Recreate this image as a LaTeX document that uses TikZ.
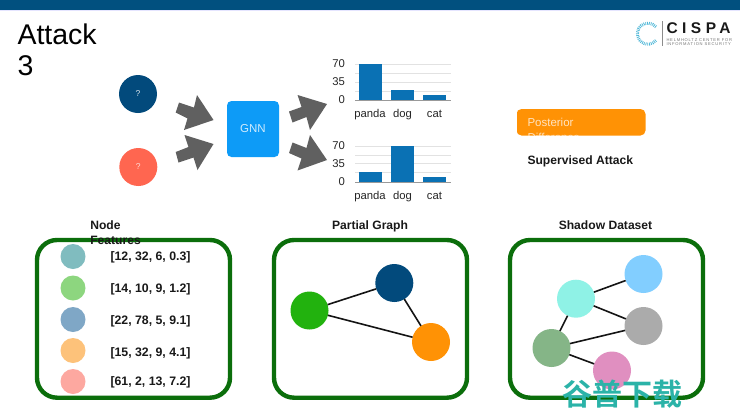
\documentclass[tikz,border=0pt]{standalone}
\usepackage{fontspec}
\setmainfont{Liberation Sans}
\newfontfamily\cjkfont{Noto Sans CJK SC}[BoldFont={* Bold}]
\definecolor{barblue}{HTML}{0A71B4}
\definecolor{navy}{HTML}{024A7C}
\definecolor{topbar}{HTML}{01507F}
\definecolor{frame}{HTML}{0B6E0B}
\definecolor{arrowgray}{HTML}{606060}
\definecolor{gridgray}{HTML}{E2E2E2}
\definecolor{ringteal}{HTML}{4FB8D8}
\definecolor{coral}{HTML}{FF6650}
\definecolor{gnnblue}{HTML}{0D9BF7}
\definecolor{amber}{HTML}{FF9205}
\definecolor{fa}{HTML}{80BCBF}
\definecolor{fb}{HTML}{8DD67F}
\definecolor{fc}{HTML}{7FA7C6}
\definecolor{fd}{HTML}{FDC27A}
\definecolor{fe}{HTML}{FDA8A0}
\definecolor{ga}{HTML}{22B20E}
\definecolor{sa}{HTML}{8FF2E6}
\definecolor{sb}{HTML}{82CEFF}
\definecolor{sc}{HTML}{ABABAB}
\definecolor{sd}{HTML}{85B587}
\definecolor{se}{HTML}{E08FC0}
\definecolor{wmark}{HTML}{2BB3A8}
\newcommand{\fs}[1]{\fontsize{#1}{#1}\selectfont}
\tikzset{
 x=1pt,y=-1pt,
 txt/.style={inner sep=0pt,outer sep=0pt,text=black},
 axislab/.style={txt,font=\fs{11.3},text=black!85},
 boldlab/.style={txt,font=\fs{12.1}\bfseries,text=black!90},
 vec/.style={txt,font=\fs{12.3}\bfseries,text=black!90,anchor=west},
 dot/.style={circle,inner sep=0pt,outer sep=0pt,minimum size=25pt,fill=#1},
 big/.style={circle,inner sep=0pt,outer sep=0pt,minimum size=38pt,fill=#1},
 panel/.style={draw=frame,line width=4.4pt,rounded corners=20pt},
 edge/.style={draw=black!92,line width=1.6pt},
 blockarrow/.style={fill=arrowgray},
 bar/.style={fill=barblue},
 grid line/.style={draw=gridgray,line width=.7pt},
 base line/.style={draw=black!40,line width=.9pt},
}
\begin{document}
\begin{tikzpicture}
\useasboundingbox (0,0) rectangle (740,416);
\fill[white] (0,0) rectangle (740,416);
\fill[topbar] (0,0) rectangle (740,9.5);
\fill[blue!10] (0,9.5) rectangle (740,10.4);
% title
\node[txt,font=\fs{28.5},anchor=base west] (t1) at (17.5,44) {Attack};
\node[txt,font=\fs{28.5},anchor=base west] (t2) at (17.5,75) {3};
% logo
\draw[ringteal,line width=3pt,dash pattern=on .8pt off 1pt] (655.9,26.9) arc[start angle=40,end angle=320,radius=10.5pt];
\draw[black!45,line width=.6pt] (662.6,21) -- (662.6,45.5);
\node[txt,font=\fs{15.5}\bfseries\addfontfeature{LetterSpace=29},anchor=base west,text=black!90] (cispa) at (666.5,33) {CISPA};
\node[txt,font=\fs{4.1}\addfontfeature{LetterSpace=19},anchor=base west,text=black!55] (h1) at (666.5,41) {HELMHOLTZ CENTER FOR};
\node[txt,font=\fs{4.1}\addfontfeature{LetterSpace=19},anchor=base west,text=black!55] (h2) at (666.5,45.8) {INFORMATION SECURITY};
% inputs
\node[big=navy,text=white!85!navy,font=\fs{8.5}] (n1) at (138,94) {?};
\node[big=coral,text=white!75!coral,font=\fs{8.5}] (n2) at (138.3,167) {?};
\node[fill=gnnblue,rounded corners=4.5pt,minimum width=52pt,minimum height=56pt,inner sep=0pt,text=white!80!gnnblue,font=\fs{11.5}] (gnn) at (253,129) {GNN};
% block arrows
\fill[blockarrow] (175.7,112.5) -- (179,102.5) -- (194,107.5) -- (197,95) -- (213.5,120) -- (184,130) -- (187.5,118.5) -- cycle;
\fill[blockarrow] (175.7,152) -- (178.5,162.5) -- (193.5,157.5) -- (197.5,170) -- (213.5,144) -- (184.5,135) -- (188.5,147) -- cycle;
\fill[blockarrow] (289,111.5) -- (292.5,122.5) -- (306.5,117) -- (310,130) -- (327,104) -- (297.5,95) -- (301.5,107) -- cycle;
\fill[blockarrow] (289,153) -- (292.5,142.5) -- (306.5,148) -- (310,135) -- (327,160) -- (297.5,170.5) -- (301.5,158.5) -- cycle;
% chart 1
\foreach \yy in {64,73,82,91} \draw[grid line] (355,\yy) -- (451,\yy);
\fill[bar] (359,64) rectangle (382,100);
\fill[bar] (391,90) rectangle (414,100);
\fill[bar] (423,95) rectangle (446,100);
\draw[base line] (355,100) -- (451,100);
\node[axislab,anchor=east] (a70) at (345,64) {70};
\node[axislab,anchor=east] (a35) at (345,82) {35};
\node[axislab,anchor=east] (a0) at (345,100) {0};
\node[axislab,anchor=base] (ap) at (370,117) {panda};
\node[axislab,anchor=base] (ad) at (402.5,117) {dog};
\node[axislab,anchor=base] (ac) at (434.5,117) {cat};
% chart 2
\foreach \yy in {146,155,163.5,172} \draw[grid line] (355,\yy) -- (451,\yy);
\fill[bar] (359,171.5) rectangle (382,182);
\fill[bar] (391,146) rectangle (414,182);
\fill[bar] (423,177) rectangle (446,182);
\draw[base line] (355,182) -- (451,182);
\node[axislab,anchor=east] (b70) at (345,146) {70};
\node[axislab,anchor=east] (b35) at (345,164) {35};
\node[axislab,anchor=east] (b0) at (345,182) {0};
\node[axislab,anchor=base] (bp) at (370,199) {panda};
\node[axislab,anchor=base] (bd) at (402.5,199) {dog};
\node[axislab,anchor=base] (bc) at (434.5,199) {cat};
% orange box
\begin{scope}
\path[clip,rounded corners=5pt] (516.5,109) rectangle (645.5,135.5);
\fill[amber] (516.5,109) rectangle (645.5,135.5);
\node[txt,font=\fs{11.5},text=white!75!amber,anchor=base west] (p1) at (527.5,126) {Posterior};
\node[txt,font=\fs{11.5},text=white!75!amber,anchor=base west] (p2) at (527.5,141) {Difference};
\end{scope}
\node[boldlab,anchor=base west] (sup) at (527.5,164.5) {Supervised Attack};
% panels
\draw[panel] (37,240) rectangle (230,397.7);
\draw[panel] (274,240) rectangle (467,397.7);
\draw[panel] (510,240) rectangle (703,397.7);
% titles
\node[boldlab,anchor=base west] (nf1) at (90.3,229.5) {Node};
\node[boldlab,anchor=base west] (nf2) at (90.3,244.5) {Features};
\node[boldlab,anchor=base] (pg) at (370,229.5) {Partial Graph};
\node[boldlab,anchor=base] (sd) at (605.5,229.5) {Shadow Dataset};
% features
\node[dot=fa] (f1) at (73,256.5) {};
\node[dot=fb] (f2) at (73,288) {};
\node[dot=fc] (f3) at (73,319.5) {};
\node[dot=fd] (f4) at (73,350.5) {};
\node[dot=fe] (f5) at (73,381.5) {};
\node[vec] (v1) at (110.5,257) {[12, 32, 6, 0.3]};
\node[vec] (v2) at (110.5,289) {[14, 10, 9, 1.2]};
\node[vec] (v3) at (110.5,321) {[22, 78, 5, 9.1]};
\node[vec] (v4) at (110.5,353) {[15, 32, 9, 4.1]};
\node[vec] (v5) at (110.5,382) {[61, 2, 13, 7.2]};
% partial graph
\node[big=ga] (a) at (309.5,310.5) {};
\node[big=navy] (b) at (394.3,283) {};
\node[big=amber] (c) at (431,342) {};
\draw[edge] (a) -- (b);
\draw[edge] (a) -- (c);
\draw[edge] (b) -- (c);
% shadow dataset
\node[big=sa] (s1) at (576,298.7) {};
\node[big=sb] (s2) at (643.5,274) {};
\node[big=sc] (s3) at (643.5,326) {};
\node[big=sd] (s4) at (551.5,348) {};
\node[big=se] (s5) at (612,370.5) {};
\draw[edge] (s1) -- (s2);
\draw[edge] (s1) -- (s3);
\draw[edge] (s1) -- (s4);
\draw[edge] (s4) -- (s3);
\draw[edge] (s4) -- (s5);
% watermark
\node[txt,font=\fs{30}\cjkfont\bfseries,text=wmark,anchor=center] (wm) at (622.5,394) {谷普下载};
\end{tikzpicture}
\end{document}
